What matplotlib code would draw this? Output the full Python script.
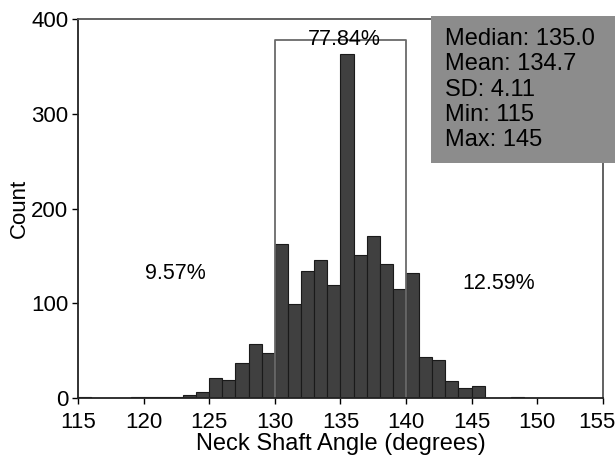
import numpy as np
import matplotlib.pyplot as plt
import matplotlib.transforms as mtransforms
from matplotlib.patches import Rectangle

plt.rcParams['font.family'] = ['Liberation Sans', 'DejaVu Sans']

# bin left edges (width 1 degree) and counts
bin_left = list(range(115, 149))
counts = [1, 0, 0, 0, 1, 1, 1, 1, 3, 6,
          21, 19, 37, 57, 47, 163, 99, 134, 146, 119,
          363, 151, 171, 141, 115, 132, 43, 40, 18, 11,
          13, 0, 0, 1]

x_ticks = [115, 120, 125, 130, 135, 140, 145, 150, 155]
y_ticks = [0, 100, 200, 300, 400]

box_lo, box_hi, box_top = 130, 140, 378
pct_labels = [(122.4, 131, "9.57%"), (135.3, 378, "77.84%"), (147.1, 121, "12.59%")]
stats = ["Median: 135.0", "Mean: 134.7", "SD: 4.11", "Min: 115", "Max: 145"]

fig = plt.figure(figsize=(6.15, 4.58), dpi=100)
ax = fig.add_axes([0.127, 0.131, 0.853, 0.8275])

ax.bar(bin_left, counts, width=1.0, align='edge', color='#404040',
       edgecolor='#1a1a1a', linewidth=0.8)

# rectangle marking the 130-140 range
ax.plot([box_lo, box_lo, box_hi, box_hi], [0, box_top, box_top, 0],
        color='#6a6a6a', linewidth=1.3)

for x, y, s in pct_labels:
    ax.text(x, y, s, ha='center', va='center', fontsize=15.5)

ax.set_xlim(115, 155)
ax.set_ylim(0, 400)
ax.set_xticks(x_ticks)
ax.set_yticks(y_ticks)
ax.tick_params(labelsize=16, length=4, width=1, direction='out')
ax.tick_params(axis='x', pad=6)
ax.tick_params(axis='y', pad=3)
ax.set_xlabel("Neck Shaft Angle (degrees)", fontsize=17, labelpad=0)
ax.set_ylabel("Count", fontsize=16, labelpad=1)

# last x label sits a little left of its tick
fig.canvas.draw()
last = ax.get_xticklabels()[-1]
last.set_transform(last.get_transform() +
                   mtransforms.ScaledTranslation(-6 / 100, 0, fig.dpi_scale_trans))

for side in ['left', 'bottom']:
    ax.spines[side].set_color('#222222')
    ax.spines[side].set_linewidth(1.3)
for side in ['top', 'right']:
    ax.spines[side].set_color('#555555')
    ax.spines[side].set_linewidth(1.3)

# statistics box, runs past the right edge of the axes
fig.add_artist(Rectangle((431 / 615, 1 - 163 / 458), 1 - 431 / 615, 147 / 458,
                         transform=fig.transFigure, facecolor='#8c8c8c',
                         edgecolor='none', zorder=5))
for i, s in enumerate(stats):
    fig.text(445 / 615, 1 - (39 + 25.3 * i) / 458, s, ha='left', va='center',
             fontsize=17, color='black', zorder=6)

fig.savefig("out.png", dpi=100)
